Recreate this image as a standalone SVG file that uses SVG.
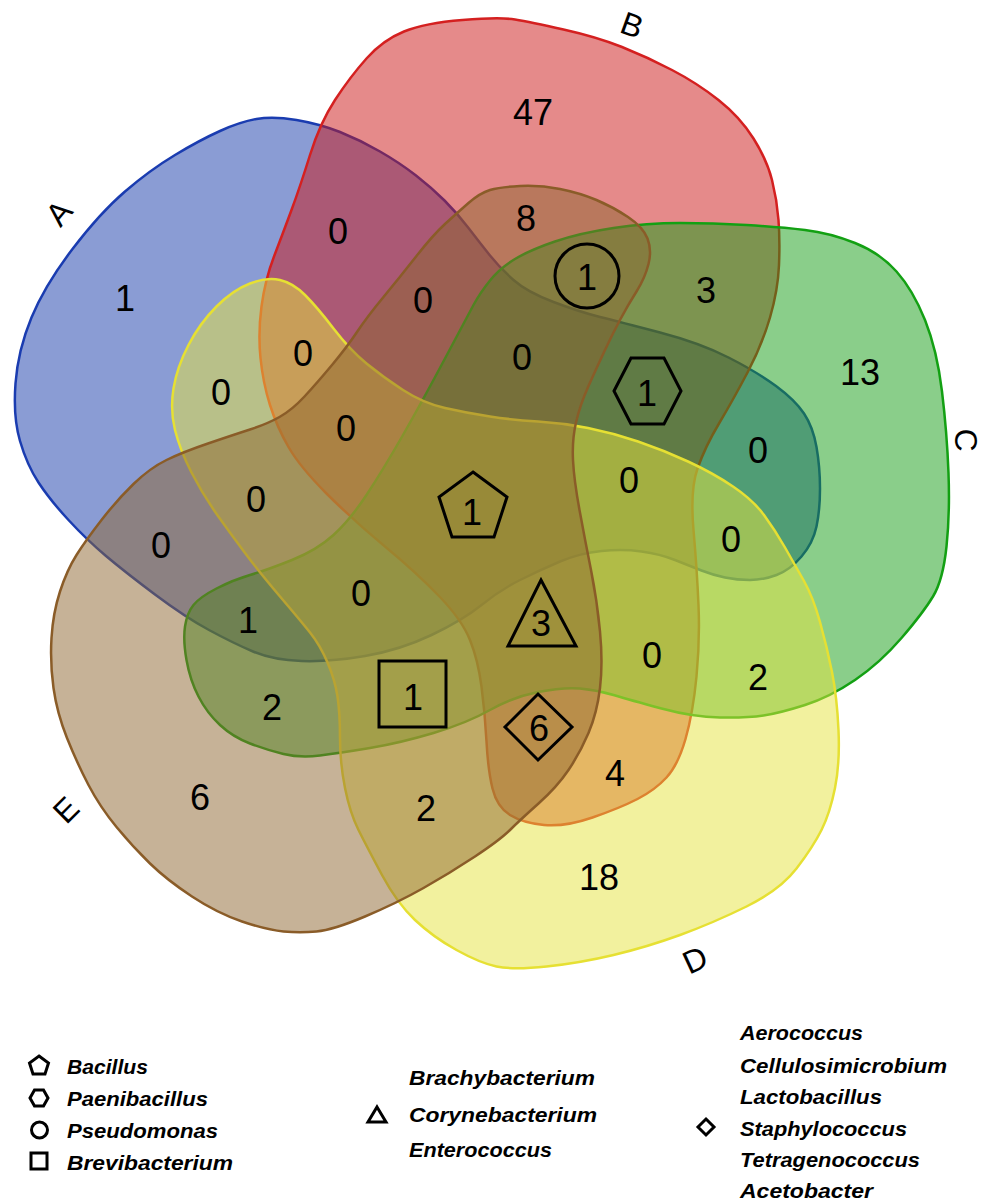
<svg xmlns="http://www.w3.org/2000/svg" width="984" height="1201" viewBox="0 0 984 1201">
<style>
.set{fill-opacity:0.5;stroke-width:2.5;stroke-linejoin:round}
.num{font-family:"Liberation Sans",Arial,sans-serif;font-size:36px;text-anchor:middle;fill:#000}
.lab{font-family:"Liberation Sans",Arial,sans-serif;font-size:32px;text-anchor:middle;fill:#000}
.sym{fill:none;stroke:#000;stroke-width:3}
.lsym{fill:none;stroke:#000;stroke-width:3}
.leg{font-family:"Liberation Sans",Arial,sans-serif;font-style:italic;font-weight:bold;font-size:21px;fill:#000}
</style>
<rect width="984" height="1201" fill="#fff"/>
<g id="set-A">
<path class="set" fill="#153AA9" stroke="#1A3CB0" d="M 256.5,119 Q 273,116 296.5,120 Q 320,124 340,132 Q 360,140 380,151.5 Q 400,163 416,175.5 Q 432,188 444.5,200.5 Q 457,213 468.5,228 Q 480,243 490,255.5 Q 500,268 513.5,280 Q 527,292 553.5,302 Q 580,312 600,317 Q 620,322 660,332.5 Q 700,343 728.5,357.5 Q 757,372 776,386 Q 795,400 804,413.5 Q 813,427 816.5,447 Q 820,467 820,488.5 Q 820,510 816.5,526.5 Q 813,543 801.5,556.5 Q 790,570 776.5,575 Q 763,580 750,580 Q 737,580 725,577.5 Q 713,575 701.5,570.5 Q 690,566 675,560 Q 660,554 641.5,551.5 Q 623,549 601.5,551 Q 580,553 560,561.5 Q 540,570 520,580 Q 500,590 481.5,605 Q 463,620 431.5,635 Q 400,650 365,656 Q 330,662 301.5,661 Q 273,660 253,651.5 Q 233,643 209,630 Q 185,617 155,594.5 Q 125,572 106,556 Q 87,540 68.5,520 Q 50,500 38.5,482.5 Q 27,465 20,441 Q 13,417 15.5,383.5 Q 18,350 31.5,317.5 Q 45,285 72.5,249 Q 100,213 125,191.5 Q 150,170 175,155 Q 200,140 220,131 Q 240,122 256.5,119 Z"/>
</g>
<g id="set-B">
<path class="set" fill="#CB1515" stroke="#D42020" d="M 462.5,20 Q 500,17 515,19.5 Q 530,22 563.5,29.5 Q 597,37 622,47 Q 647,57 672,70 Q 697,83 718.5,100 Q 740,117 753.5,138.5 Q 767,160 772,180 Q 777,200 778.5,220 Q 780,240 779,265 Q 778,290 770,317.5 Q 762,345 747.5,372.5 Q 733,400 719,423.5 Q 705,447 697.5,468.5 Q 690,490 693.5,530 Q 697,570 698.5,605 Q 700,640 696.5,676.5 Q 693,713 685.5,739 Q 678,765 666.5,777.5 Q 655,790 637.5,799 Q 620,808 592.5,817.5 Q 565,827 544,825 Q 523,823 510,815 Q 497,807 492.5,788.5 Q 488,770 486.5,741.5 Q 485,713 481.5,686.5 Q 478,660 470,640 Q 462,620 439.5,596.5 Q 417,573 385,546.5 Q 353,520 326.5,493.5 Q 300,467 288.5,447 Q 277,427 270,405 Q 263,383 260.5,358 Q 258,333 261.5,306.5 Q 265,280 274,256.5 Q 283,233 291.5,210 Q 300,187 310,155 Q 320,123 335,100 Q 350,77 366.5,58.5 Q 383,40 404,31.5 Q 425,23 462.5,20 Z"/>
</g>
<g id="set-C">
<path class="set" fill="#159D15" stroke="#13A013" d="M 515,259 Q 530,250 555,241.5 Q 580,233 613.5,228 Q 647,223 680,223 Q 713,223 746.5,225 Q 780,227 805,230 Q 830,233 855,243 Q 880,253 896.5,271.5 Q 913,290 925,320 Q 937,350 942,391.5 Q 947,433 948.5,473 Q 950,513 946.5,546.5 Q 943,580 933,596.5 Q 923,613 901.5,638 Q 880,663 855,680 Q 830,697 805,705 Q 780,713 763.5,715.5 Q 747,718 720,717.5 Q 693,717 661.5,708.5 Q 630,700 613.5,695 Q 597,690 580,688.5 Q 563,687 538,692 Q 513,697 490,710 Q 467,723 433.5,733 Q 400,743 370,748 Q 340,753 320,755.5 Q 300,758 283.5,754 Q 267,750 250,743.5 Q 233,737 220,725 Q 207,713 198.5,696.5 Q 190,680 186.5,660 Q 183,640 185,626.5 Q 187,613 193.5,605 Q 200,597 216.5,588.5 Q 233,580 250,575 Q 267,570 292,560 Q 317,550 333.5,535 Q 350,520 366.5,495 Q 383,470 403,435 Q 423,400 445,358.5 Q 467,317 473.5,305 Q 480,293 490,280.5 Q 500,268 515,259 Z"/>
</g>
<g id="set-D">
<path class="set" fill="#E5E33D" stroke="#E6E033" d="M 250,283.5 Q 267,277 280,280 Q 293,283 305,295 Q 317,307 333.5,328.5 Q 350,350 366.5,363.5 Q 383,377 403,390 Q 423,403 445,408 Q 467,413 490,416.5 Q 513,420 538,421.5 Q 563,423 588,428 Q 613,433 638,441.5 Q 663,450 688,461.5 Q 713,473 733,486.5 Q 753,500 764,515 Q 775,530 785,547.5 Q 795,565 804,581 Q 813,597 820,622 Q 827,647 832,672 Q 837,697 838.5,730 Q 840,763 835,788 Q 830,813 821.5,830 Q 813,847 796.5,868.5 Q 780,890 746.5,906.5 Q 713,923 680,935 Q 647,947 613.5,955 Q 580,963 546.5,966.5 Q 513,970 496.5,966.5 Q 480,963 456.5,950 Q 433,937 415,920 Q 397,903 382,875 Q 367,847 358.5,830 Q 350,813 345,788 Q 340,763 340,738 Q 340,713 337.5,696.5 Q 335,680 327.5,662.5 Q 320,645 310,632.5 Q 300,620 280,596.5 Q 260,573 246.5,555 Q 233,537 218,516 Q 203,495 191.5,472.5 Q 180,450 175,430 Q 170,410 173.5,388.5 Q 177,367 188.5,345 Q 200,323 216.5,306.5 Q 233,290 250,283.5 Z"/>
</g>
<g id="set-E">
<path class="set" fill="#8D652F" stroke="#8A5C28" d="M 490,190 Q 500,187 520,186 Q 540,185 560,189 Q 580,193 596.5,200 Q 613,207 628,217 Q 643,227 647.5,238.5 Q 652,250 648.5,264 Q 645,278 636.5,291.5 Q 628,305 620.5,319 Q 613,333 605,350 Q 597,367 588.5,386 Q 580,405 576,422.5 Q 572,440 573,460 Q 574,480 579.5,510 Q 585,540 591,570 Q 597,600 600,631.5 Q 603,663 600,688 Q 597,713 588.5,733 Q 580,753 568.5,770 Q 557,787 538.5,803.5 Q 520,820 510,830 Q 500,840 475,856.5 Q 450,873 423.5,888 Q 397,903 365,916.5 Q 333,930 316.5,931.5 Q 300,933 283.5,931.5 Q 267,930 242,921.5 Q 217,913 192,896.5 Q 167,880 150,863.5 Q 133,847 116.5,827 Q 100,807 88.5,785 Q 77,763 67,738 Q 57,713 53.5,688 Q 50,663 51.5,638 Q 53,613 60,591.5 Q 67,570 76.5,555 Q 86,540 101.5,520 Q 117,500 133.5,484 Q 150,468 166.5,460 Q 183,452 208,443.5 Q 233,435 250,429.5 Q 267,424 279.5,417 Q 292,410 304.5,396.5 Q 317,383 332,365 Q 347,347 357,332 Q 367,317 383.5,297 Q 400,277 416.5,256 Q 433,235 445,224 Q 457,213 468.5,203 Q 480,193 490,190 Z"/>
</g>
<g id="set-labels">
<text class="lab" transform="translate(59,213) rotate(-50)" dy="11">A</text>
<text class="lab" transform="translate(632,25) rotate(20)" dy="11">B</text>
<text class="lab" transform="translate(966,440) rotate(90)" dy="11">C</text>
<text class="lab" transform="translate(695,960) rotate(-25)" dy="11">D</text>
<text class="lab" transform="translate(66,810) rotate(-45)" dy="11">E</text>
</g>
<g id="region-symbols">
<circle class="sym" cx="587" cy="276" r="32"/>
<polygon class="sym" points="614,391 631,358 664,358 681,391 664,424 631,424"/>
<polygon class="sym" points="473,472 507,497 494,537 452,537 439,497"/>
<polygon class="sym" points="541,580 576,646 508,646"/>
<rect class="sym" x="379" y="661" width="67" height="66"/>
<polygon class="sym" points="538,694 572,727 538,760 505,727"/>
</g>
<g id="counts">
<text class="num" x="125" y="311">1</text>
<text class="num" x="533" y="125">47</text>
<text class="num" x="338" y="244">0</text>
<text class="num" x="526" y="231">8</text>
<text class="num" x="587" y="290">1</text>
<text class="num" x="706" y="303">3</text>
<text class="num" x="423" y="313">0</text>
<text class="num" x="303" y="366">0</text>
<text class="num" x="221" y="405">0</text>
<text class="num" x="522" y="370">0</text>
<text class="num" x="647" y="406">1</text>
<text class="num" x="860" y="385">13</text>
<text class="num" x="346" y="441">0</text>
<text class="num" x="758" y="463">0</text>
<text class="num" x="629" y="493">0</text>
<text class="num" x="256" y="512">0</text>
<text class="num" x="472" y="525">1</text>
<text class="num" x="161" y="558">0</text>
<text class="num" x="731" y="552">0</text>
<text class="num" x="361" y="606">0</text>
<text class="num" x="248" y="633">1</text>
<text class="num" x="541" y="636">3</text>
<text class="num" x="652" y="668">0</text>
<text class="num" x="758" y="690">2</text>
<text class="num" x="413" y="710">1</text>
<text class="num" x="272" y="720">2</text>
<text class="num" x="539" y="741">6</text>
<text class="num" x="615" y="786">4</text>
<text class="num" x="200" y="810">6</text>
<text class="num" x="426" y="821">2</text>
<text class="num" x="599" y="890">18</text>
</g>
<g id="legend">
<polygon class="lsym" points="39,1056 48.5,1063 45,1074 33,1074 29.5,1063"/>
<polygon class="lsym" points="30,1098 34.5,1090 43.5,1090 48,1098 43.5,1106 34.5,1106"/>
<circle class="lsym" cx="39.5" cy="1130" r="8"/>
<rect class="lsym" x="31" y="1153" width="16" height="16"/>
<polygon class="lsym" points="377,1107 386,1122 368,1122"/>
<polygon class="lsym" points="706,1119 714,1127 706,1135 698,1127"/>
<text class="leg" x="67" y="1074" textLength="81" lengthAdjust="spacingAndGlyphs">Bacillus</text>
<text class="leg" x="67" y="1106" textLength="141" lengthAdjust="spacingAndGlyphs">Paenibacillus</text>
<text class="leg" x="67" y="1138" textLength="151" lengthAdjust="spacingAndGlyphs">Pseudomonas</text>
<text class="leg" x="67" y="1170" textLength="166" lengthAdjust="spacingAndGlyphs">Brevibacterium</text>
<text class="leg" x="409" y="1085" textLength="186" lengthAdjust="spacingAndGlyphs">Brachybacterium</text>
<text class="leg" x="409" y="1122" textLength="188" lengthAdjust="spacingAndGlyphs">Corynebacterium</text>
<text class="leg" x="409" y="1157" textLength="143" lengthAdjust="spacingAndGlyphs">Enterococcus</text>
<text class="leg" x="740" y="1040" textLength="123" lengthAdjust="spacingAndGlyphs">Aerococcus</text>
<text class="leg" x="740" y="1073" textLength="207" lengthAdjust="spacingAndGlyphs">Cellulosimicrobium</text>
<text class="leg" x="740" y="1104" textLength="142" lengthAdjust="spacingAndGlyphs">Lactobacillus</text>
<text class="leg" x="740" y="1136" textLength="167" lengthAdjust="spacingAndGlyphs">Staphylococcus</text>
<text class="leg" x="740" y="1167" textLength="180" lengthAdjust="spacingAndGlyphs">Tetragenococcus</text>
<text class="leg" x="740" y="1198" textLength="133" lengthAdjust="spacingAndGlyphs">Acetobacter</text>
</g>
</svg>
